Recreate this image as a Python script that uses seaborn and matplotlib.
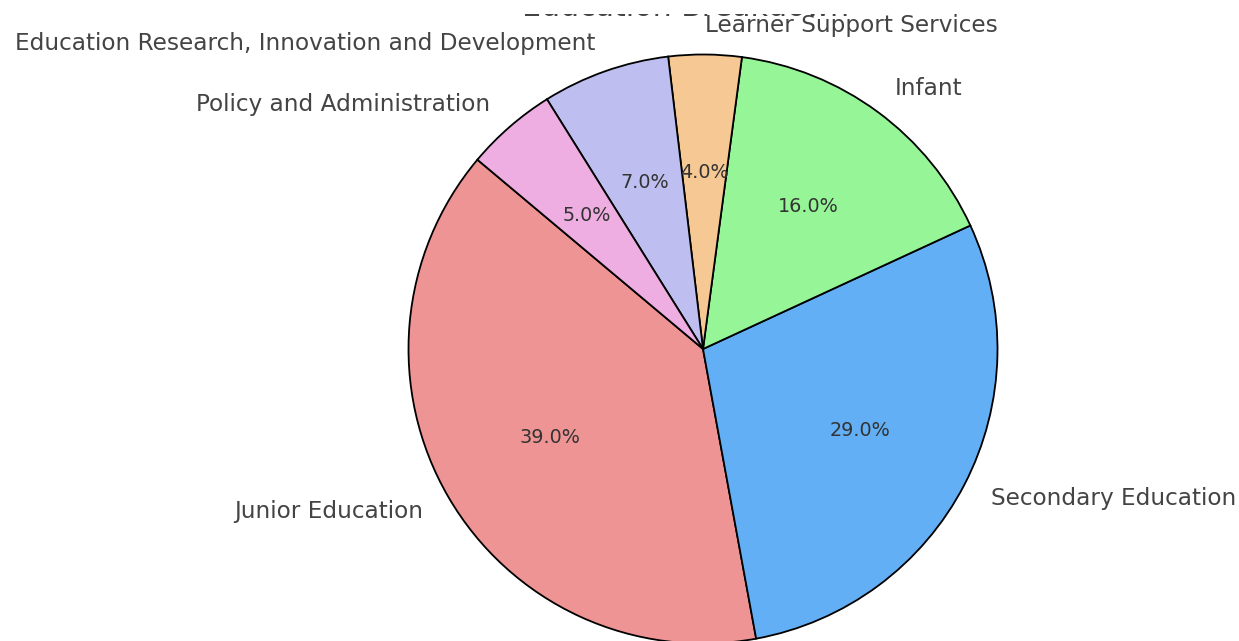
import matplotlib
matplotlib.use("Agg")
import matplotlib.pyplot as plt
from matplotlib.patches import Rectangle
import seaborn as sns

# Budget shares by programme (percent)
categories = [
    "Junior Education",
    "Secondary Education",
    "Infant",
    "Learner Support Services",
    "Education Research, Innovation and Development",
    "Policy and Administration",
]
shares = [39, 29, 16, 4, 7, 5]
colors = ["#ef9494", "#63aff5", "#96f596", "#f5c894", "#bebef0", "#eeaee2"]
title = "Education Breakdown"

sns.set_theme(style="white")
plt.rcParams["font.family"] = ["DejaVu Sans"]

W, H = 1239, 641
fig = plt.figure(figsize=(W / 100, H / 100), dpi=100)
fig.patch.set_facecolor("white")

# pie centre and radius in pixels
cx, cy, r = 703, H - 349, 294.5
ax = fig.add_axes([(cx - r) / W, (cy - r) / H, 2 * r / W, 2 * r / H])

wedges, texts, autotexts = ax.pie(
    shares,
    labels=categories,
    colors=colors,
    autopct="%1.1f%%",
    startangle=140,
    wedgeprops={"edgecolor": "black", "linewidth": 1.3},
    textprops={"fontsize": 16.7, "color": "#444444"},
    pctdistance=0.6,
    labeldistance=1.1,
)
for t in autotexts:
    t.set_fontsize(13.8)
    t.set_color("#333333")

ax.set_xlim(-1, 1)
ax.set_ylim(-1, 1)
ax.set_aspect("equal")
ax.axis("off")

# title sits mostly above the visible area; only its lower edge shows
fig.text(686 / W, 1 - 15.5 / H, title, ha="center", va="baseline",
         fontsize=21.6, color="#444444", zorder=3)
band = Rectangle((480 / W, 1 - 13.5 / H), 420 / W, 13.5 / H + 0.01,
                 transform=fig.transFigure, facecolor="white",
                 edgecolor="none", zorder=4)
fig.patches.append(band)
band.set_figure(fig)

fig.savefig("out.png", dpi=100, facecolor="white")
